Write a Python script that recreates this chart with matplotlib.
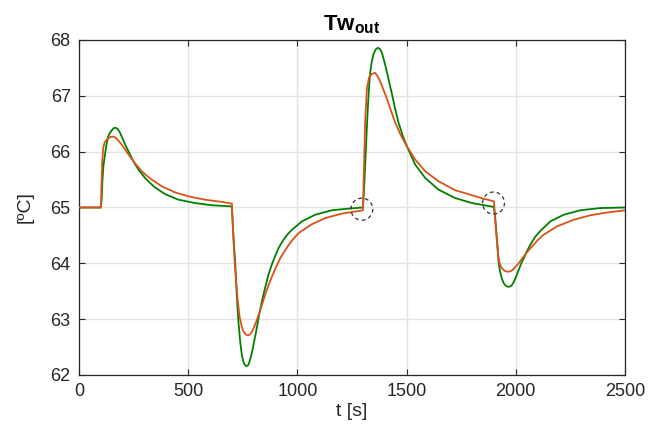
import matplotlib
matplotlib.use("Agg")
import matplotlib.pyplot as plt
from matplotlib.patches import Ellipse

# ---- data ----
t_green = [0, 100, 104, 107, 112, 119, 126, 134, 142, 150, 158, 168, 178, 188, 199, 211, 226, 241, 256, 272, 302, 325,
           348, 394, 455, 531, 608, 700,
           704, 710, 715, 722, 730, 738, 745, 750, 755, 761, 768, 775, 780, 786, 791, 796, 802, 814, 825, 837, 852,
           867, 882, 898, 916, 936, 955, 975, 1020, 1081, 1157, 1234, 1300,
           1305, 1312, 1320, 1327, 1333, 1340, 1348, 1358, 1368, 1378, 1387, 1397, 1409, 1420, 1432, 1447, 1463, 1482,
           1501, 1539, 1585, 1646, 1722, 1799, 1900,
           1905, 1910, 1916, 1921, 1928, 1936, 1944, 1951, 1960, 1971, 1980, 1990, 2001, 2013, 2024, 2036, 2050, 2066,
           2088, 2112, 2158, 2219, 2295, 2387, 2500]
v_green = [65.0, 65.0, 65.15, 65.47, 65.75, 65.95, 66.13, 66.27, 66.34, 66.38, 66.42, 66.43, 66.40, 66.34, 66.24,
           66.13, 66.01, 65.89, 65.78, 65.68, 65.53, 65.44, 65.36, 65.24, 65.14, 65.08, 65.04, 65.02,
           64.7, 64.3, 64.03, 63.45, 62.95, 62.6, 62.38, 62.28, 62.21, 62.17, 62.16, 62.18, 62.23, 62.31, 62.39,
           62.48, 62.6, 62.84, 63.08, 63.31, 63.56, 63.79, 63.97, 64.13, 64.29, 64.42, 64.52, 64.60, 64.75, 64.87,
           64.95, 64.98, 65.0,
           65.3, 65.9, 66.6, 67.1, 67.41, 67.6, 67.74, 67.83, 67.86, 67.84, 67.77, 67.63, 67.44, 67.25, 67.05,
           66.78, 66.52, 66.29, 66.10, 65.77, 65.53, 65.32, 65.17, 65.08, 65.01,
           64.85, 64.63, 64.3, 64.03, 63.85, 63.73, 63.65, 63.61, 63.585, 63.58, 63.6, 63.66, 63.76, 63.88, 63.99,
           64.09, 64.21, 64.33, 64.47, 64.58, 64.75, 64.87, 64.95, 64.99, 65.0]

t_orange = [0, 100, 103, 106, 111, 118, 127, 142, 157, 168, 180, 195, 211, 230, 249, 268, 287, 310, 333, 379, 440, 501,
            577, 654, 700,
            704, 710, 715, 725, 735, 745, 752, 760, 766, 773, 780, 786, 792, 799, 810, 822, 837, 852, 867, 883, 902,
            921, 940, 960, 982, 1005, 1066, 1127, 1203, 1300,
            1304, 1310, 1318, 1328, 1340, 1348, 1356, 1366, 1379, 1393, 1409, 1428, 1448, 1474, 1501, 1539, 1585,
            1646, 1722, 1799, 1850, 1900,
            1905, 1910, 1916, 1921, 1926, 1932, 1940, 1947, 1957, 1967, 1978, 1990, 2001, 2013, 2024, 2036, 2058, 2081,
            2104, 2127, 2188, 2264, 2341, 2417, 2500]
v_orange = [65.0, 65.0, 65.4, 65.8, 66.07, 66.17, 66.22, 66.26, 66.27, 66.25, 66.20, 66.13, 66.04, 65.93, 65.83,
            65.74, 65.65, 65.57, 65.50, 65.38, 65.27, 65.20, 65.14, 65.10, 65.07,
            64.7, 64.2, 63.9, 63.4, 63.05, 62.87, 62.79, 62.74, 62.72, 62.71, 62.72, 62.74, 62.78, 62.83, 62.94,
            63.07, 63.25, 63.43, 63.6, 63.76, 63.93, 64.09, 64.21, 64.33, 64.44, 64.54, 64.70, 64.81, 64.89, 64.95,
            65.6, 66.52, 67.12, 67.33, 67.39, 67.405, 67.41, 67.36, 67.26, 67.12, 66.96, 66.74, 66.52, 66.29,
            66.10, 65.86, 65.65, 65.47, 65.31, 65.22, 65.16, 65.11,
            64.8, 64.55, 64.3, 64.1, 64.0, 63.94, 63.9, 63.87, 63.855, 63.85, 63.86, 63.90, 63.95, 64.0, 64.06,
            64.12, 64.23, 64.33, 64.43, 64.51, 64.66, 64.78, 64.86, 64.91, 64.95]

circle_t = [1295, 1898]
circle_v = [64.97, 65.08]

x_ticks = [0, 500, 1000, 1500, 2000, 2500]
y_ticks = [62, 63, 64, 65, 66, 67, 68]

# ---- style ----
plt.rcParams['font.family'] = ['Liberation Sans', 'DejaVu Sans']
plt.rcParams['mathtext.fontset'] = 'custom'
plt.rcParams['mathtext.rm'] = 'Liberation Sans'
plt.rcParams['mathtext.bf'] = 'Liberation Sans:bold'

dark = '#262626'
fig = plt.figure(figsize=(6.62, 4.43), dpi=100)
ax = fig.add_axes([79 / 662, 1 - 375 / 443, (625 - 79) / 662, (375 - 40) / 443])

ax.plot(t_green, v_green, color='#008000', lw=1.3, zorder=3, solid_joinstyle='round')
ax.plot(t_orange, v_orange, color='#D95319', lw=1.3, zorder=4, solid_joinstyle='round')

for ct, cv in zip(circle_t, circle_v):
    ax.add_patch(Ellipse((ct, cv), width=100, height=0.395, fill=False,
                         edgecolor='#333333', lw=0.9, ls=(0, (3, 2.5)), zorder=5))

ax.set_xlim(0, 2500)
ax.set_ylim(62, 68)
ax.set_xticks(x_ticks)
ax.set_yticks(y_ticks)
ax.grid(True, color='#e3e3e3', lw=1.0, zorder=0)
ax.set_axisbelow(True)
ax.tick_params(direction='in', length=4, width=0.8, top=True, right=True,
               colors=dark, labelsize=13, pad=6)
for s in ax.spines.values():
    s.set_color(dark)
    s.set_linewidth(0.9)

ax.set_xlabel('t [s]', fontsize=14, color=dark, labelpad=2)
ax.set_ylabel('[ºC]', fontsize=14, color=dark, labelpad=12)
ax.set_title(r'$\mathbf{Tw_{out}}$', fontsize=16, color='black', pad=7)

fig.savefig('out.png', dpi=100)
